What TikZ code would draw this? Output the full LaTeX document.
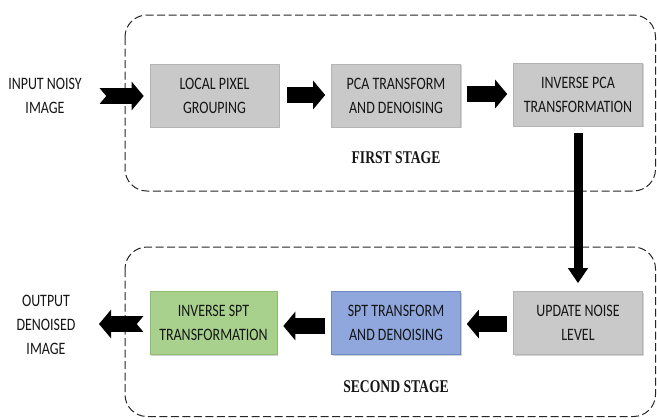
\documentclass[tikz,border=0pt]{standalone}
\usepackage{fontspec}
\setmainfont{Carlito}
\newfontfamily\boxfont[FakeStretch=0.80]{Carlito}
\newfontfamily\stagefont[FakeStretch=0.76]{Liberation Serif}
\usetikzlibrary{arrows.meta,shadows}
\definecolor{boxgray}{HTML}{C9C9C9}
\definecolor{boxgrayline}{HTML}{B4B4B4}
\definecolor{boxgreen}{HTML}{A9D18E}
\definecolor{boxgreenline}{HTML}{8DBB70}
\definecolor{boxblue}{HTML}{8FA7DC}
\definecolor{boxblueline}{HTML}{6D8AC6}
\definecolor{txt}{HTML}{161616}
\begin{document}
\begin{tikzpicture}[x=1bp,y=-1bp,
  stagebox/.style={draw=black!85, dash pattern=on 8bp off 3.5bp, line width=1bp, rounded corners=22bp},
  blockbox/.style={draw=boxgrayline, fill=boxgray, line width=0.6bp, minimum width=129bp, minimum height=63bp,
    inner sep=0pt, align=center, text=txt, font=\boxfont\fontsize{17.5}{24}\selectfont,
    drop shadow={shadow xshift=1.3bp, shadow yshift=-1.3bp, opacity=0.3, fill=black!60}},
  greenbox/.style={blockbox, draw=boxgreenline, fill=boxgreen},
  bluebox/.style={blockbox, draw=boxblueline, fill=boxblue},
  sidetext/.style={align=center, text=txt, font=\boxfont\fontsize{17.5}{24}\selectfont, inner sep=0pt},
  stagelabel/.style={font=\stagefont\bfseries\fontsize{18}{20}\selectfont, text=txt, inner sep=0pt},
  bigarrow/.style={draw=black, line width=16bp, -{Triangle[length=12bp, width=28bp]}},
  downarrow/.style={draw=black, line width=9bp, -{Triangle[length=15bp, width=19bp]}}
]
\useasboundingbox (0,0) rectangle (657,419);

% stage frames
\draw[stagebox] (125,15) rectangle (655.5,191);
\draw[stagebox] (125,247) rectangle (655.5,416.5);

% blocks
\node[blockbox] (local) at (214.5,95.5) {LOCAL PIXEL\\GROUPING};
\node[blockbox] (pca) at (396,95.5) {PCA TRANSFORM\\AND DENOISING};
\node[blockbox] (ipca) at (578,94.5) {INVERSE PCA\\TRANSFORMATION};
\node[greenbox, minimum width=127bp] (ispt) at (213.5,323) {INVERSE SPT\\TRANSFORMATION};
\node[bluebox] (spt) at (396,323) {SPT TRANSFORM\\AND DENOISING};
\node[blockbox] (upd) at (578,323) {UPDATE NOISE\\LEVEL};

% side texts and stage labels
\node[sidetext] (in) at (45,96) {INPUT NOISY\\IMAGE};
\node[sidetext] (out) at (46,325) {OUTPUT\\DENOISED\\IMAGE};
\node[stagelabel] (first) at (396,158) {FIRST STAGE};
\node[stagelabel] (second) at (396,387) {SECOND STAGE};

% connectors
\coordinate (inTail) at (99,96);
\coordinate (outHead) at (99,324);
\draw[bigarrow, shorten >=6bp] (inTail) -- (local.west |- inTail);
\fill[white] (98.5,87) -- (106,96) -- (98.5,105) -- cycle;

\draw[bigarrow, shorten <=8bp, shorten >=6bp] (local.east |- 0,95) -- (pca.west |- 0,95);
\draw[bigarrow, shorten <=6bp, shorten >=6bp] (pca.east |- 0,94) -- (ipca.west |- 0,94);
\draw[downarrow, shorten <=7bp, shorten >=8bp] (ipca.south) -- (upd.north);
\draw[bigarrow, shorten <=6bp, shorten >=6bp] (upd.west |- 0,324) -- (spt.east |- 0,324);
\draw[bigarrow, shorten <=6bp, shorten >=6bp] (spt.west |- 0,326) -- (ispt.east |- 0,326);
\draw[bigarrow, shorten <=6bp] (ispt.west |- outHead) -- (outHead);
\fill[white] (144.5,315) -- (137,324) -- (144.5,333) -- cycle;
\end{tikzpicture}
\end{document}
